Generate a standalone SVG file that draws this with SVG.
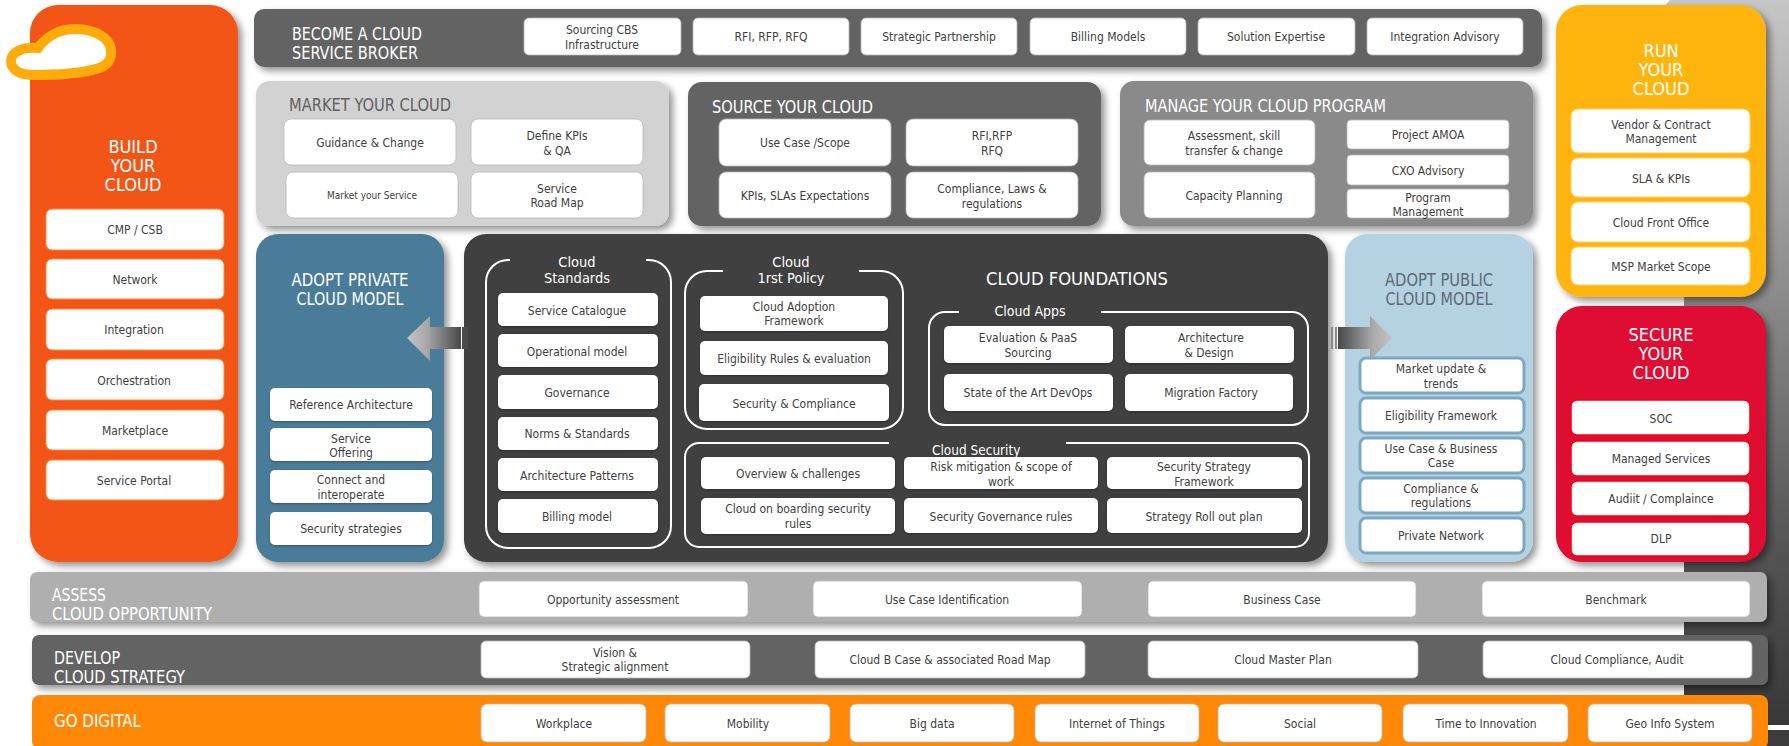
<svg xmlns="http://www.w3.org/2000/svg" width="1789" height="746" viewBox="0 0 1789 746">
<style>
text{font-family:"DejaVu Sans Condensed","DejaVu Sans","Liberation Sans",sans-serif;font-stretch:condensed;text-anchor:middle}
.b{fill:#fff;stroke:#b8b8b8;stroke-width:.8}
.o{fill:#fff;stroke:#fb8a3e;stroke-width:1}
.y{fill:#fff;stroke:#ffd069;stroke-width:1}
.r{fill:#fff;stroke:#f5000f;stroke-width:1.5}
.u{fill:#fff;stroke:#7ca8c4;stroke-width:3}
.d{fill:#fff;filter:url(#s2)}
.t{font-size:12px;fill:#404040}
.h{font-size:18px;fill:#fff}
.l{text-anchor:start}
.st{font-size:14.5px;fill:#fff}
.f{fill:none;stroke:#fff;stroke-width:2}
.p{filter:url(#s)}
</style>
<defs>
<filter id="s" x="-10%" y="-10%" width="125%" height="130%"><feDropShadow dx="4" dy="4" stdDeviation="3.5" flood-color="#000" flood-opacity=".42"/></filter>
<filter id="s2" x="-5%" y="-10%" width="110%" height="125%"><feDropShadow dx="0" dy="1" stdDeviation="1" flood-color="#000" flood-opacity=".3"/></filter>
<linearGradient id="bg" x1="0" y1="0" x2="0" y2="1"><stop offset="0" stop-color="#c6c6c6"/><stop offset=".4" stop-color="#8c8c8c"/><stop offset=".75" stop-color="#555"/><stop offset="1" stop-color="#383838"/></linearGradient>
<linearGradient id="al" x1="0" y1="0" x2="1" y2="0"><stop offset="0" stop-color="#c4c4c4"/><stop offset=".35" stop-color="#aaa"/><stop offset="1" stop-color="#484848"/></linearGradient>
<linearGradient id="ar" x1="0" y1="0" x2="1" y2="0"><stop offset="0" stop-color="#484848"/><stop offset=".65" stop-color="#aaa"/><stop offset="1" stop-color="#c4c4c4"/></linearGradient>
</defs>
<g id="background">
<path d="M1670,0H1789V725H1684V20L1664,6Z" fill="url(#bg)"/>
<rect x="1684" y="730" width="105" height="16" fill="#3c3c3c"/>
</g>

<g id="build">
<rect class="p" x="30" y="5" width="208" height="557" rx="28" fill="#f25515"/>
<text class="h" x="133" y="153">BUILD</text><text class="h" x="133" y="172">YOUR</text><text class="h" x="133" y="191">CLOUD</text>
<rect class="o" x="46" y="209" width="178" height="41" rx="6"/><text class="t" x="135" y="234">CMP / CSB</text>
<rect class="o" x="46" y="259" width="178" height="40" rx="6"/><text class="t" x="135" y="284">Network</text>
<rect class="o" x="46" y="309" width="178" height="41" rx="6"/><text class="t" x="134" y="334">Integration</text>
<rect class="o" x="46" y="359" width="178" height="41" rx="6"/><text class="t" x="134" y="385">Orchestration</text>
<rect class="o" x="46" y="410" width="178" height="40" rx="6"/><text class="t" x="135" y="435">Marketplace</text>
<rect class="o" x="46" y="460" width="178" height="40" rx="6"/><text class="t" x="134" y="485">Service Portal</text>
</g>
<g id="logo"><path d="M35,75C20,75 11,70 11,61C11,52 22,47 38,48C45,38 58,29 75,29C95,29 110,38 111,50C112,62 106,67 92,70C75,74 55,75 35,75Z" fill="#fff" stroke="#ffab0a" stroke-width="10"/></g>

<g id="broker">
<rect class="p" x="254" y="9" width="1288" height="58" rx="10" fill="#636363"/>
<text class="h l" x="292" y="40" textLength="130" lengthAdjust="spacingAndGlyphs">BECOME A CLOUD</text><text class="h l" x="292" y="59" textLength="126" lengthAdjust="spacingAndGlyphs">SERVICE BROKER</text>
<rect class="b" x="524" y="18" width="157" height="37" rx="5"/><text class="t" x="602" y="34">Sourcing CBS</text><text class="t" x="602" y="49">Infrastructure</text>
<rect class="b" x="693" y="18" width="156" height="37" rx="5"/><text class="t" x="771" y="41">RFI, RFP, RFQ</text>
<rect class="b" x="861" y="18" width="156" height="37" rx="5"/><text class="t" x="939" y="41">Strategic Partnership</text>
<rect class="b" x="1030" y="18" width="156" height="37" rx="5"/><text class="t" x="1108" y="41">Billing Models</text>
<rect class="b" x="1198" y="18" width="157" height="37" rx="5"/><text class="t" x="1276" y="41">Solution Expertise</text>
<rect class="b" x="1367" y="18" width="156" height="37" rx="5"/><text class="t" x="1445" y="41">Integration Advisory</text>
</g>

<g id="market">
<rect class="p" x="256" y="81" width="413" height="145" rx="14" fill="#d2d2d2"/>
<text class="h l" x="289" y="111" style="fill:#606060" textLength="162" lengthAdjust="spacingAndGlyphs">MARKET YOUR CLOUD</text>
<rect class="b" x="284" y="119" width="172" height="46" rx="7"/><text class="t" x="370" y="147">Guidance &amp; Change</text>
<rect class="b" x="471" y="119" width="172" height="46" rx="7"/><text class="t" x="557" y="140">Define KPIs</text><text class="t" x="557" y="155">&amp; QA</text>
<rect class="b" x="286" y="172" width="172" height="46" rx="7"/><text class="t" x="372" y="199" style="font-size:10px">Market your Service</text>
<rect class="b" x="471" y="172" width="172" height="46" rx="7"/><text class="t" x="557" y="193">Service</text><text class="t" x="557" y="207">Road Map</text>
</g>

<g id="source">
<rect class="p" x="688" y="82" width="413" height="144" rx="14" fill="#636363"/>
<text class="h l" x="712" y="113" textLength="161" lengthAdjust="spacingAndGlyphs">SOURCE YOUR CLOUD</text>
<rect class="b" x="719" y="119" width="172" height="47" rx="7"/><text class="t" x="805" y="147">Use Case /Scope</text>
<rect class="b" x="906" y="119" width="172" height="47" rx="7"/><text class="t" x="992" y="140">RFI,RFP</text><text class="t" x="992" y="155">RFQ</text>
<rect class="b" x="719" y="172" width="172" height="46" rx="7"/><text class="t" x="805" y="200">KPIs, SLAs Expectations</text>
<rect class="b" x="906" y="172" width="172" height="46" rx="7"/><text class="t" x="992" y="193">Compliance, Laws &amp;</text><text class="t" x="992" y="208">regulations</text>
</g>

<g id="manage">
<rect class="p" x="1120" y="81" width="413" height="145" rx="14" fill="#8a8a8a"/>
<text class="h l" x="1145" y="112" textLength="241" lengthAdjust="spacingAndGlyphs">MANAGE YOUR CLOUD PROGRAM</text>
<rect class="b" x="1144" y="120" width="171" height="45" rx="6"/><text class="t" x="1234" y="140">Assessment, skill</text><text class="t" x="1234" y="155">transfer &amp; change</text>
<rect class="b" x="1144" y="172" width="171" height="46" rx="6"/><text class="t" x="1234" y="200">Capacity Planning</text>
<rect class="b" x="1347" y="120" width="162" height="29" rx="4"/><text class="t" x="1428" y="139">Project AMOA</text>
<rect class="b" x="1347" y="155" width="162" height="30" rx="4"/><text class="t" x="1428" y="175">CXO Advisory</text>
<rect class="b" x="1347" y="189" width="162" height="29" rx="4"/><text class="t" x="1428" y="202">Program</text><text class="t" x="1428" y="216">Management</text>
</g>

<g id="private">
<rect class="p" x="256" y="234" width="188" height="328" rx="22" fill="#487b99"/>
<text class="h" x="350" y="286" textLength="117" lengthAdjust="spacingAndGlyphs">ADOPT PRIVATE</text><text class="h" x="350" y="305" textLength="107" lengthAdjust="spacingAndGlyphs">CLOUD MODEL</text>
<rect class="d" x="270" y="388" width="162" height="33" rx="5"/><text class="t" x="351" y="409">Reference Architecture</text>
<rect class="d" x="270" y="428" width="162" height="33" rx="5"/><text class="t" x="351" y="443">Service</text><text class="t" x="351" y="457">Offering</text>
<rect class="d" x="270" y="470" width="162" height="33" rx="5"/><text class="t" x="351" y="484">Connect and</text><text class="t" x="351" y="499">interoperate</text>
<rect class="d" x="270" y="512" width="162" height="33" rx="5"/><text class="t" x="351" y="533">Security strategies</text>
</g>

<g id="foundations">
<rect class="p" x="464" y="234" width="864" height="328" rx="22" fill="#404040"/>
<text class="h" x="1077" y="285" textLength="182" lengthAdjust="spacingAndGlyphs">CLOUD FOUNDATIONS</text>
</g>
<g id="standards">
<path class="f" d="M510,260H508A22,22 0 0 0 486,282V526A22,22 0 0 0 508,548H649A22,22 0 0 0 671,526V282A22,22 0 0 0 649,260H646"/>
<text class="st" x="577" y="267">Cloud</text><text class="st" x="577" y="283">Standards</text>
<rect class="d" x="498" y="293" width="160" height="33" rx="5"/><text class="t" x="577" y="315">Service Catalogue</text>
<rect class="d" x="498" y="334" width="160" height="33" rx="5"/><text class="t" x="577" y="356">Operational model</text>
<rect class="d" x="498" y="375" width="160" height="34" rx="5"/><text class="t" x="577" y="397">Governance</text>
<rect class="d" x="498" y="417" width="160" height="33" rx="5"/><text class="t" x="577" y="438">Norms &amp; Standards</text>
<rect class="d" x="498" y="458" width="160" height="33" rx="5"/><text class="t" x="577" y="480">Architecture Patterns</text>
<rect class="d" x="498" y="499" width="160" height="34" rx="5"/><text class="t" x="577" y="521">Billing model</text>
</g>
<g id="policy">
<path class="f" d="M723,271H707A22,22 0 0 0 685,293V407A22,22 0 0 0 707,429H881A22,22 0 0 0 903,407V293A22,22 0 0 0 881,271H859"/>
<text class="st" x="791" y="267">Cloud</text><text class="st" x="791" y="283">1rst Policy</text>
<rect class="d" x="700" y="296" width="188" height="35" rx="5"/><text class="t" x="794" y="311">Cloud Adoption</text><text class="t" x="794" y="325">Framework</text>
<rect class="d" x="700" y="341" width="188" height="34" rx="5"/><text class="t" x="794" y="363">Eligibility Rules &amp; evaluation</text>
<rect class="d" x="699" y="384" width="190" height="37" rx="5"/><text class="t" x="794" y="408">Security &amp; Compliance</text>
</g>
<g id="apps">
<path class="f" d="M959,312H945A16,16 0 0 0 929,328V409A16,16 0 0 0 945,425H1292A16,16 0 0 0 1308,409V328A16,16 0 0 0 1292,312H1101"/>
<text class="st" x="1030" y="316" style="font-size:14px">Cloud Apps</text>
<rect class="d" x="944" y="326" width="169" height="37" rx="5"/><text class="t" x="1028" y="342">Evaluation &amp; PaaS</text><text class="t" x="1028" y="357">Sourcing</text>
<rect class="d" x="1125" y="326" width="169" height="37" rx="5"/><text class="t" x="1211" y="342">Architecture</text><text class="t" x="1209" y="357">&amp; Design</text>
<rect class="d" x="944" y="374" width="169" height="37" rx="5"/><text class="t" x="1028" y="397">State of the Art DevOps</text>
<rect class="d" x="1125" y="374" width="168" height="37" rx="5"/><text class="t" x="1211" y="397">Migration Factory</text>
</g>
<g id="security">
<path class="f" d="M889,443H699A14,14 0 0 0 685,457V533A14,14 0 0 0 699,547H1295A14,14 0 0 0 1309,533V457A14,14 0 0 0 1295,443H1066"/>
<text class="st l" x="932" y="455" style="font-size:13.5px">Cloud Security</text>
<rect class="d" x="701" y="457" width="194" height="32" rx="5"/><text class="t" x="798" y="478">Overview &amp; challenges</text>
<rect class="d" x="701" y="498" width="194" height="36" rx="5"/><text class="t" x="798" y="513">Cloud on boarding security</text><text class="t" x="798" y="528">rules</text>
<rect class="d" x="904" y="457" width="194" height="32" rx="5"/><text class="t" x="1001" y="471">Risk mitigation &amp; scope of</text><text class="t" x="1001" y="486">work</text>
<rect class="d" x="904" y="498" width="194" height="35" rx="5"/><text class="t" x="1001" y="521">Security Governance rules</text>
<rect class="d" x="1107" y="457" width="195" height="32" rx="5"/><text class="t" x="1204" y="471">Security Strategy</text><text class="t" x="1204" y="486">Framework</text>
<rect class="d" x="1107" y="498" width="195" height="35" rx="5"/><text class="t" x="1204" y="521">Strategy Roll out plan</text>
</g>

<g id="public">
<rect class="p" x="1345" y="234" width="188" height="328" rx="22" fill="#b5d2e3"/>
<text class="h" x="1439" y="286" style="fill:#5c6b73" textLength="108" lengthAdjust="spacingAndGlyphs">ADOPT PUBLIC</text><text class="h" x="1439" y="305" style="fill:#5c6b73" textLength="107" lengthAdjust="spacingAndGlyphs">CLOUD MODEL</text>
<rect class="u" x="1360" y="358" width="164" height="35" rx="6"/><text class="t" x="1441" y="373">Market update &amp;</text><text class="t" x="1441" y="388">trends</text>
<rect class="u" x="1360" y="398" width="164" height="35" rx="6"/><text class="t" x="1441" y="420">Eligibility Framework</text>
<rect class="u" x="1360" y="438" width="164" height="35" rx="6"/><text class="t" x="1441" y="453">Use Case &amp; Business</text><text class="t" x="1441" y="467">Case</text>
<rect class="u" x="1360" y="478" width="164" height="35" rx="6"/><text class="t" x="1441" y="493">Compliance &amp;</text><text class="t" x="1441" y="507">regulations</text>
<rect class="u" x="1360" y="518" width="164" height="35" rx="6"/><text class="t" x="1441" y="540">Private Network</text>
</g>

<g id="run">
<rect class="p" x="1556" y="5" width="210" height="292" rx="26" fill="#ffb511"/>
<text class="h" x="1661" y="57">RUN</text><text class="h" x="1661" y="76">YOUR</text><text class="h" x="1661" y="95">CLOUD</text>
<rect class="y" x="1571" y="109" width="179" height="44" rx="7"/><text class="t" x="1661" y="129">Vendor &amp; Contract</text><text class="t" x="1661" y="143">Management</text>
<rect class="y" x="1571" y="158" width="179" height="39" rx="7"/><text class="t" x="1661" y="183">SLA &amp; KPIs</text>
<rect class="y" x="1571" y="202" width="179" height="40" rx="7"/><text class="t" x="1661" y="227">Cloud Front Office</text>
<rect class="y" x="1571" y="247" width="179" height="38" rx="7"/><text class="t" x="1661" y="271">MSP Market Scope</text>
</g>

<g id="secure">
<rect class="p" x="1556" y="306" width="210" height="256" rx="26" fill="#df0733"/>
<text class="h" x="1661" y="341">SECURE</text><text class="h" x="1661" y="360">YOUR</text><text class="h" x="1661" y="379">CLOUD</text>
<rect class="r" x="1571" y="400" width="179" height="35" rx="6"/><text class="t" x="1661" y="423">SOC</text>
<rect class="r" x="1571" y="441" width="179" height="35" rx="6"/><text class="t" x="1661" y="463">Managed Services</text>
<rect class="r" x="1571" y="481" width="179" height="35" rx="6"/><text class="t" x="1661" y="503">Audiit / Complaince</text>
<rect class="r" x="1571" y="522" width="179" height="34" rx="6"/><text class="t" x="1661" y="543">DLP</text>
</g>

<g id="connectors">
<path d="M407,338L430,316V327H461V349H430V361Z" fill="url(#al)"/>
<rect x="462" y="327" width="6" height="22" fill="#4a4a4a"/>
<path d="M1338,327H1370V316L1392,338L1370,360V349H1338Z" fill="url(#ar)"/>
<path d="M1331,327h2v22h-2zM1335,327h2v22h-2z" fill="#8a8a8a"/>
</g>

<g id="assess">
<rect class="p" x="30" y="572" width="1737" height="50" rx="7" fill="#afafaf"/>
<text class="h l" x="52" y="601" textLength="54" lengthAdjust="spacingAndGlyphs">ASSESS</text><text class="h l" x="52" y="620" textLength="160" lengthAdjust="spacingAndGlyphs">CLOUD OPPORTUNITY</text>
<rect class="b" x="479" y="581" width="269" height="36" rx="5"/><text class="t" x="613" y="604">Opportunity assessment</text>
<rect class="b" x="813" y="581" width="269" height="36" rx="5"/><text class="t" x="947" y="604">Use Case Identification</text>
<rect class="b" x="1148" y="581" width="268" height="36" rx="5"/><text class="t" x="1282" y="604">Business Case</text>
<rect class="b" x="1482" y="581" width="268" height="36" rx="5"/><text class="t" x="1616" y="604">Benchmark</text>
</g>
<g id="develop">
<rect class="p" x="32" y="635" width="1736" height="50" rx="7" fill="#636363"/>
<text class="h l" x="54" y="664" textLength="66" lengthAdjust="spacingAndGlyphs">DEVELOP</text><text class="h l" x="54" y="683" textLength="131" lengthAdjust="spacingAndGlyphs">CLOUD STRATEGY</text>
<rect class="b" x="481" y="641" width="269" height="37" rx="5"/><text class="t" x="615" y="657">Vision &amp;</text><text class="t" x="615" y="671">Strategic alignment</text>
<rect class="b" x="815" y="641" width="270" height="37" rx="5"/><text class="t" x="950" y="664">Cloud B Case &amp; associated Road Map</text>
<rect class="b" x="1148" y="641" width="270" height="37" rx="5"/><text class="t" x="1283" y="664">Cloud Master Plan</text>
<rect class="b" x="1483" y="641" width="269" height="37" rx="5"/><text class="t" x="1617" y="664">Cloud Compliance, Audit</text>
</g>
<g id="digital">
<rect x="32" y="695" width="1736" height="54" rx="8" fill="#ff8906"/>
<text class="h l" x="54" y="727" textLength="87" lengthAdjust="spacingAndGlyphs">GO DIGITAL</text>
<rect class="b" x="481" y="704" width="165" height="38" rx="6"/><text class="t" x="564" y="728">Workplace</text>
<rect class="b" x="665" y="704" width="165" height="38" rx="6"/><text class="t" x="748" y="728">Mobility</text>
<rect class="b" x="850" y="704" width="164" height="38" rx="6"/><text class="t" x="932" y="728">Big data</text>
<rect class="b" x="1035" y="704" width="164" height="38" rx="6"/><text class="t" x="1117" y="728">Internet of Things</text>
<rect class="b" x="1218" y="704" width="164" height="38" rx="6"/><text class="t" x="1300" y="728">Social</text>
<rect class="b" x="1403" y="704" width="165" height="38" rx="6"/><text class="t" x="1486" y="728">Time to Innovation</text>
<rect class="b" x="1588" y="704" width="164" height="38" rx="6"/><text class="t" x="1670" y="728">Geo Info System</text>
</g>
</svg>
